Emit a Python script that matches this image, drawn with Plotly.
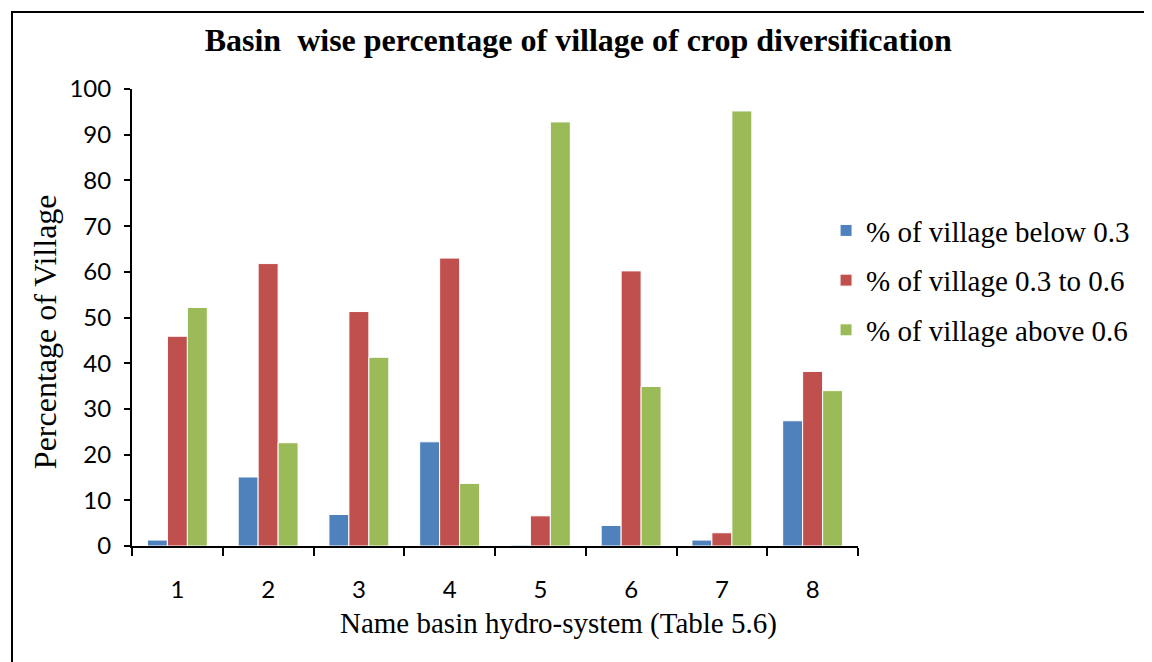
import plotly.graph_objects as go

# Basin numbers and percentage of villages per diversification class
basins = ["1", "2", "3", "4", "5", "6", "7", "8"]
below_03 = [1.3, 15.1, 6.9, 22.8, 0.2, 4.5, 1.3, 27.4]
between_03_06 = [45.9, 61.8, 51.3, 63.0, 6.6, 60.2, 2.9, 38.2]
above_06 = [52.2, 22.6, 41.3, 13.7, 92.8, 34.9, 95.2, 34.0]

series_names = ["% of village below 0.3", "% of village 0.3 to 0.6", "% of village above 0.6"]
series_values = [below_03, between_03_06, above_06]
colors = ["#4F81BD", "#C0504D", "#9BBB59"]

fig = go.Figure()

for name, vals, col in zip(series_names, series_values, colors):
    fig.add_trace(go.Bar(
        x=basins,
        y=vals,
        name=name,
        legendgroup=name,
        marker=dict(color=col, line=dict(color="white", width=1))
    ))

# page body adds an 8px offset, margins are shifted to compensate
# plot area on screen: x 132..858, y 89..546
fig.update_layout(
    width=1152,
    height=662,
    margin=dict(l=124, r=302, t=81, b=124),
    paper_bgcolor="white",
    plot_bgcolor="white",
    barmode="group",
    bargap=0.34,
    bargroupgap=0,
    title=dict(
        text="<b>Basin  wise percentage of village of crop diversification</b>",
        x=0.495,
        xanchor="center",
        y=0.952,
        yanchor="middle",
        font=dict(family="Liberation Serif", size=32, color="black")
    ),
    legend=dict(
        x=0.956,
        y=0.746,
        xanchor="left",
        yanchor="top",
        traceorder="grouped",
        tracegroupgap=9,
        font=dict(family="Liberation Serif", size=29, color="black"),
        itemwidth=30
    ),
    showlegend=True
)

fig.update_xaxes(
    type="category",
    range=[-0.5, 7.5],
    showline=True,
    linecolor="black",
    linewidth=2,
    ticks="outside",
    tickson="boundaries",
    ticklen=8,
    tickwidth=2,
    tickcolor="black",
    ticklabelstandoff=21,
    tickfont=dict(family="Lato", size=24, color="black"),
    showgrid=False
)

fig.update_yaxes(
    range=[0, 100],
    dtick=10,
    showline=True,
    linecolor="black",
    linewidth=2,
    ticks="outside",
    ticklen=6,
    tickwidth=2,
    tickcolor="black",
    ticklabelstandoff=8,
    tickfont=dict(family="Lato", size=24, color="black"),
    showgrid=False,
    zeroline=False
)

# Axis titles sit off-centre in the original, so place them as annotations
fig.add_annotation(
    text="Name basin hydro-system (Table 5.6)",
    xref="paper", yref="paper",
    x=0.587, y=-0.1685,
    xanchor="center", yanchor="middle",
    showarrow=False,
    font=dict(family="Liberation Serif", size=29, color="black")
)
fig.add_annotation(
    text="Percentage of Village",
    xref="paper", yref="paper",
    x=-0.1198, y=0.468,
    xanchor="center", yanchor="middle",
    textangle=-90,
    showarrow=False,
    font=dict(family="Liberation Serif", size=32, color="black")
)

# Outer chart border (right and bottom edges run off the page)
fig.add_shape(
    type="rect",
    xref="paper", yref="paper",
    x0=(12 - 132) / 726, x1=(1168 - 132) / 726,
    y0=(546 - 680) / 457, y1=(546 - 12) / 457,
    line=dict(color="black", width=2),
    fillcolor="rgba(0,0,0,0)",
    layer="below"
)

fig.write_html("out.html")
